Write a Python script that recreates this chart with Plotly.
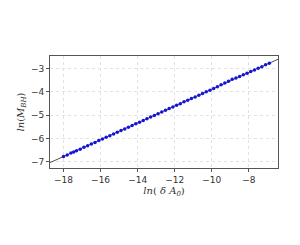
import plotly.graph_objects as go

# scatter data: ln(delta A0) vs ln(M_BH)
x_pts = [-18.0, -17.8, -17.6, -17.45, -17.3, -17.1, -16.9, -16.7, -16.5, -16.3,
         -16.1, -15.9, -15.7, -15.5, -15.3, -15.1, -14.9, -14.7, -14.5, -14.3,
         -14.1, -13.9, -13.7, -13.5, -13.3, -13.1, -12.9, -12.7, -12.5, -12.3,
         -12.1, -11.9, -11.7, -11.5, -11.3, -11.1, -10.9, -10.7, -10.5, -10.3,
         -10.1, -9.9, -9.7, -9.5, -9.3, -9.1, -8.9, -8.7, -8.5, -8.3,
         -8.1, -7.9, -7.7, -7.5, -7.3, -7.1, -6.9]
y_pts = [-6.78, -6.71, -6.63, -6.58, -6.53, -6.46, -6.38, -6.31, -6.24, -6.17,
         -6.09, -6.02, -5.95, -5.88, -5.81, -5.73, -5.66, -5.59, -5.52, -5.44,
         -5.37, -5.30, -5.23, -5.16, -5.08, -5.01, -4.94, -4.87, -4.79, -4.72,
         -4.65, -4.58, -4.51, -4.43, -4.36, -4.29, -4.22, -4.15, -4.07, -4.00,
         -3.93, -3.86, -3.78, -3.70, -3.62, -3.54, -3.46, -3.40, -3.34, -3.27,
         -3.20, -3.13, -3.06, -2.99, -2.92, -2.84, -2.77]

# fitted line endpoints
fit_x = [-18.73, -6.43]
fit_y = [-7.04, -2.60]

x_ticks = [-18, -16, -14, -12, -10, -8]
y_ticks = [-7, -6, -5, -4, -3]

fig = go.Figure()
fig.add_trace(go.Scatter(x=fit_x, y=fit_y, mode="lines",
                         line=dict(color="#222222", width=0.8), showlegend=False))
fig.add_trace(go.Scatter(x=x_pts, y=y_pts, mode="markers",
                         marker=dict(color="#1414d8", size=3.5, line=dict(width=0)),
                         showlegend=False))

tick_font = dict(family="DejaVu Sans", size=9, color="#333333")
axis_common = dict(showgrid=True, gridcolor="#e2e2e2", griddash="dot", gridwidth=1,
                   zeroline=False, showline=True, linecolor="#555555", linewidth=1,
                   mirror=True, ticks="outside", ticklen=3, tickcolor="#555555",
                   tickfont=tick_font)

fig.update_layout(
    width=300, height=245,
    margin=dict(l=39, r=30, t=48, b=85),
    paper_bgcolor="white", plot_bgcolor="white",
    xaxis=dict(range=[-18.73, -6.43], tickvals=x_ticks,
               ticktext=["\u2212" + str(abs(v)) for v in x_ticks],
               title=dict(text="<i>ln</i>( <i>\u03b4 A</i><sub><i>0</i></sub>)",
                          font=dict(family="DejaVu Serif", size=10, color="#333333"),
                          standoff=1),
               **axis_common),
    yaxis=dict(range=[-7.27, -2.46], tickvals=y_ticks,
               ticktext=["\u2212" + str(abs(v)) for v in y_ticks],
               title=dict(text="<i>ln</i>(<i>M</i><sub><i>BH</i></sub>)",
                          font=dict(family="DejaVu Serif", size=10, color="#333333"),
                          standoff=4),
               **axis_common),
)

fig.write_html("out.html")
